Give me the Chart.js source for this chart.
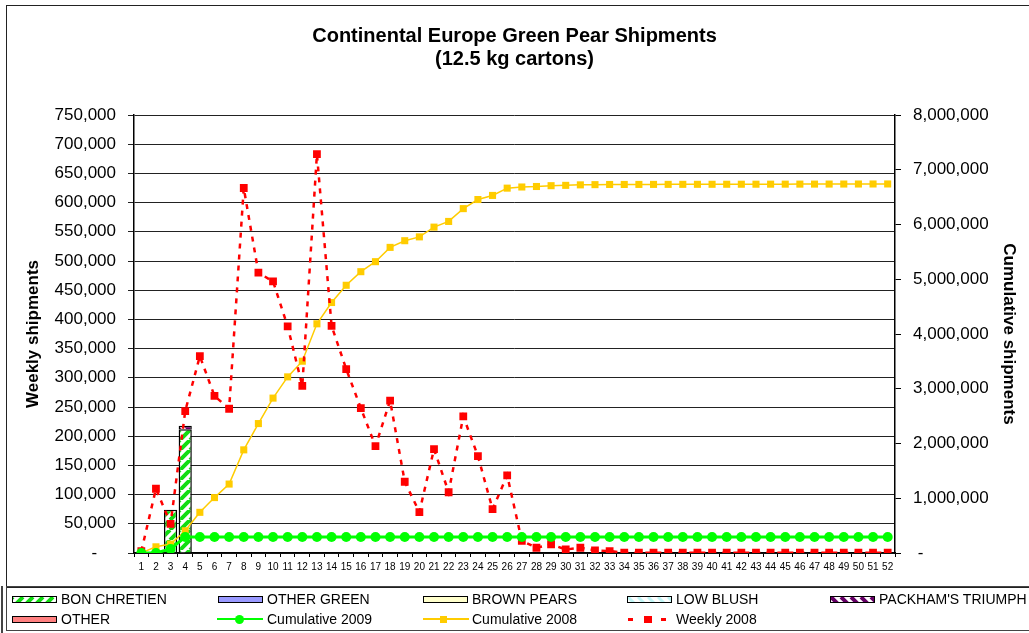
<!DOCTYPE html>
<html>
<head>
<meta charset="utf-8">
<script src="https://cdn.jsdelivr.net/npm/chart.js@4.4.1/dist/chart.umd.min.js"></script>
<style>
  html, body { margin: 0; padding: 0; background: #fff; }
  body { width: 1029px; height: 633px; position: relative; overflow: hidden; font-family: "Liberation Sans", Arial, sans-serif; }
  #frame { position: absolute; left: 6px; top: 5px; width: 1100px; height: 583px; border: 1.5px solid #222; box-sizing: border-box; }
  #chart { position: absolute; left: 0; top: 0; }
  #legend { position: absolute; left: 6px; top: 586px; width: 1100px; height: 45px; border: 1.5px solid #444; box-sizing: border-box; }
  #edge { position: absolute; left: 1px; top: 586px; width: 1.5px; height: 47px; background: #444; }
  .sw { position: absolute; height: 7px; box-sizing: border-box; border: 1px solid #000; }
  .lbl { position: absolute; font-size: 14px; line-height: 16px; white-space: nowrap; color: #000; }
  .ln { position: absolute; }
  .mk { position: absolute; }
</style>
</head>
<body>
<div id="frame"></div>
<canvas id="chart" width="1029" height="587"></canvas>
<div id="edge"></div>
<div id="legend"></div>
<script>
const TITLE = ["Continental Europe Green Pear Shipments", "(12.5 kg cartons)"];

const weeks = ["1", "2", "3", "4", "5", "6", "7", "8", "9", "10", "11", "12", "13",
  "14", "15", "16", "17", "18", "19", "20", "21", "22", "23", "24", "25", "26",
  "27", "28", "29", "30", "31", "32", "33", "34", "35", "36", "37", "38", "39",
  "40", "41", "42", "43", "44", "45", "46", "47", "48", "49", "50", "51", "52"];

// weekly cartons by variety (2009 season so far)
const bonChretien = [null, null, 74000, 212000];
const otherGreen = [];
const brownPears = [];
const lowBlush = [];
const packhamsTriumph = [null, null, null, 6000];
const otherVar = [];

const cumulative2009 = [0, 0, 74000, 292000, 292000, 292000, 292000, 292000, 292000, 292000,
  292000, 292000, 292000, 292000, 292000, 292000, 292000, 292000, 292000, 292000,
  292000, 292000, 292000, 292000, 292000, 292000, 292000, 292000, 292000, 292000,
  292000, 292000, 292000, 292000, 292000, 292000, 292000, 292000, 292000, 292000,
  292000, 292000, 292000, 292000, 292000, 292000, 292000, 292000, 292000, 292000,
  292000, 292000];

const cumulative2008 = [3000, 113000, 163000, 406000, 743000, 1012000, 1259000, 1884000,
  2364000, 2829000, 3217000, 3503000, 4186000, 4575000, 4890000, 5138000, 5321000,
  5582000, 5704000, 5774000, 5952000, 6056000, 6290000, 6456000, 6531000, 6664000,
  6685000, 6694000, 6709000, 6715000, 6724000, 6728000, 6731000, 6731500, 6732000,
  6732500, 6733000, 6733500, 6734000, 6734500, 6735000, 6735500, 6736000, 6736500,
  6737000, 6737500, 6738000, 6738500, 6739000, 6739500, 6740000, 6740500];

const weekly2008 = [3000, 110000, 50000, 243000, 337000, 269000, 247000, 625000, 480000,
  465000, 388000, 286000, 683000, 389000, 315000, 248000, 183000, 261000, 122000, 70000,
  178000, 104000, 234000, 166000, 75000, 133000, 21000, 9000, 15000, 6000, 9000, 4500,
  3400, 500, 500, 500, 500, 500, 500, 500, 500, 500, 500, 500, 500, 500, 500, 500, 500,
  500, 500, 500];

const GREEN = "#00FF00";
const YELLOW = "#FFCC00";
const RED = "#FF0000";

Chart.defaults.font.family = "'Liberation Sans', Arial, sans-serif";
Chart.defaults.color = "#000";

// diagonal hatch tile, "/" or "\"
function hatchTile(color, dir, size = 10, w = 4) {
  const c = document.createElement("canvas");
  c.width = c.height = size;
  const g = c.getContext("2d");
  g.fillStyle = "#fff";
  g.fillRect(0, 0, size, size);
  g.strokeStyle = color;
  g.lineWidth = w;
  g.beginPath();
  for (const k of [-size, 0, size]) {
    if (dir === "/") { g.moveTo(k, size); g.lineTo(k + size, 0); }
    else { g.moveTo(k, 0); g.lineTo(k + size, size); }
  }
  g.stroke();
  return c;
}

const ctx = document.getElementById("chart").getContext("2d");
const tiles = {
  bon: hatchTile("#11DD11", "/"),
  blush: hatchTile("#BFF5F5", "\\", 10, 3),
  packham: hatchTile("#660066", "\\", 10, 4),
};
const fills = {
  bon: ctx.createPattern(tiles.bon, "repeat"),
  otherGreen: "#9999FF",
  brown: "#FFFFCC",
  blush: ctx.createPattern(tiles.blush, "repeat"),
  packham: ctx.createPattern(tiles.packham, "repeat"),
  other: "#FF8080",
};

const fmtThousands = (v) => Math.round(v).toString().replace(/\B(?=(\d{3})+(?!\d))/g, ",");

const barDs = (label, data, bg) => ({
  type: "bar", label, data, backgroundColor: bg, borderColor: "#000", borderWidth: 1.5,
  stack: "bars", yAxisID: "y", order: 10, barPercentage: 0.9, categoryPercentage: 1,
});

new Chart(ctx, {
  type: "bar",
  data: {
    labels: weeks,
    datasets: [
      barDs("BON CHRETIEN", bonChretien, fills.bon),
      barDs("OTHER GREEN", otherGreen, fills.otherGreen),
      barDs("BROWN PEARS", brownPears, fills.brown),
      barDs("LOW BLUSH", lowBlush, fills.blush),
      barDs("PACKHAM'S TRIUMPH", packhamsTriumph, fills.packham),
      barDs("OTHER", otherVar, fills.other),
      {
        type: "line", label: "Cumulative 2009", data: cumulative2009, yAxisID: "y2",
        borderColor: GREEN, backgroundColor: GREEN, borderWidth: 3, tension: 0,
        pointStyle: "circle", pointRadius: 5, pointBorderWidth: 0, order: 1,
      },
      {
        type: "line", label: "Weekly 2008", data: weekly2008, yAxisID: "y", stack: "w",
        borderColor: RED, backgroundColor: RED, borderWidth: 2.5, borderDash: [5, 6], tension: 0,
        pointStyle: "rect", pointRadius: 5.5, pointBorderWidth: 0, order: 2,
      },
      {
        type: "line", label: "Cumulative 2008", data: cumulative2008, yAxisID: "y2",
        borderColor: YELLOW, backgroundColor: YELLOW, borderWidth: 1.5, tension: 0,
        pointStyle: "rect", pointRadius: 5, pointBorderWidth: 0, order: 3,
      },
    ],
  },
  options: {
    responsive: false,
    animation: false,
    events: [],
    layout: { padding: 0 },
    plugins: {
      legend: { display: false },
      tooltip: { enabled: false },
      title: {
        display: true, text: TITLE, color: "#000",
        font: { size: 20, weight: "bold", lineHeight: 1.15 },
        padding: { top: 25, bottom: 44 },
      },
    },
    scales: {
      x: {
        stacked: true,
        grid: { drawOnChartArea: false, offset: true, tickLength: 4, color: "#000" },
        border: { color: "#000", width: 1.5 },
        ticks: { autoSkip: false, maxRotation: 0, font: { size: 10 }, padding: 4 },
        afterFit: (s) => { s.height = 34; },
      },
      y: {
        position: "left", stacked: true, min: 0, max: 750000,
        ticks: { stepSize: 50000, font: { size: 17 }, padding: 12,
          callback: (v) => (v === 0 ? "-    " : fmtThousands(v)) },
        grid: { color: "#222", tickLength: 6 },
        border: { color: "#000", width: 1.5 },
        title: { display: true, text: "Weekly shipments", font: { size: 17, weight: "bold" },
          padding: { top: 23, bottom: 0 } },
        afterFit: (s) => { s.width = 134; },
      },
      y2: {
        position: "right", min: 0, max: 8000000,
        ticks: { stepSize: 1000000, font: { size: 17 }, padding: 12,
          callback: (v) => (v === 0 ? " -" : fmtThousands(v)) },
        grid: { drawOnChartArea: false, color: "#000", tickLength: 6 },
        border: { color: "#000", width: 1.5 },
        title: { display: true, text: "Cumulative shipments", font: { size: 17, weight: "bold" },
          padding: { top: 10, bottom: 0 } },
        afterFit: (s) => { s.width = 134; },
      },
    },
  },
});

// ---- legend (two rows, five columns) ----
const legendItems = [
  { label: "BON CHRETIEN", kind: "fill", fill: "url(" + tiles.bon.toDataURL() + ")", x: 12, row: 0 },
  { label: "OTHER GREEN", kind: "fill", fill: fills.otherGreen, x: 218, row: 0 },
  { label: "BROWN PEARS", kind: "fill", fill: fills.brown, x: 423, row: 0 },
  { label: "LOW BLUSH", kind: "fill", fill: "url(" + tiles.blush.toDataURL() + ")", x: 627, row: 0 },
  { label: "PACKHAM'S TRIUMPH", kind: "fill", fill: "url(" + tiles.packham.toDataURL() + ")", x: 830, row: 0 },
  { label: "OTHER", kind: "fill", fill: fills.other, x: 12, row: 1 },
  { label: "Cumulative 2009", kind: "circle", color: GREEN, x: 217, row: 1 },
  { label: "Cumulative 2008", kind: "square", color: YELLOW, x: 423, row: 1 },
  { label: "Weekly 2008", kind: "dash", color: RED, x: 628, row: 1 },
];

function el(cls, style) {
  const d = document.createElement("div");
  d.className = cls;
  Object.assign(d.style, style);
  document.body.append(d);
  return d;
}

for (const it of legendItems) {
  const cy = it.row === 0 ? 599 : 619;
  let textX = it.x + 49;
  if (it.kind === "fill") {
    const bg = it.fill.startsWith("url") ? { backgroundImage: it.fill } : { background: it.fill };
    el("sw", Object.assign({ left: it.x + "px", top: cy - 3 + "px", width: "45px" }, bg));
  } else if (it.kind === "circle") {
    el("ln", { left: it.x + "px", top: cy - 1 + "px", width: "46px", height: "2px", background: it.color });
    el("mk", { left: it.x + 18 + "px", top: cy - 4.5 + "px", width: "9px", height: "9px", borderRadius: "50%", background: it.color });
    textX = it.x + 50;
  } else if (it.kind === "square") {
    el("ln", { left: it.x + "px", top: cy - 1 + "px", width: "46px", height: "2px", background: it.color });
    el("mk", { left: it.x + 17 + "px", top: cy - 3.5 + "px", width: "7px", height: "7px", background: it.color });
  } else {
    el("ln", { left: it.x + "px", top: cy - 1 + "px", width: "5px", height: "2.5px", background: it.color });
    el("mk", { left: it.x + 16 + "px", top: cy - 3.5 + "px", width: "8px", height: "7px", background: it.color });
    el("ln", { left: it.x + 33 + "px", top: cy - 1 + "px", width: "5px", height: "2.5px", background: it.color });
    textX = it.x + 48;
  }
  const t = el("lbl", { left: textX + "px", top: cy - 8 + "px" });
  t.textContent = it.label;
}
</script>
</body>
</html>
